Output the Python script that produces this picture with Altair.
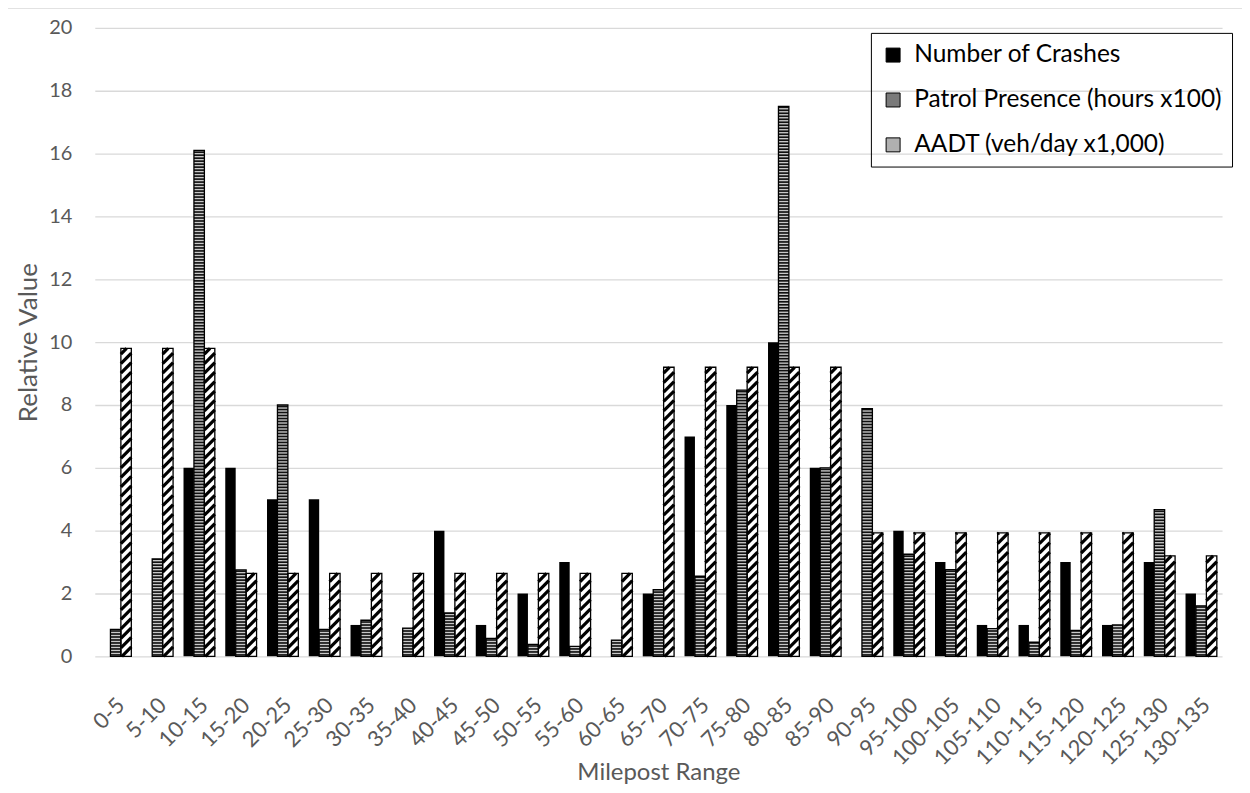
import json
import altair as alt
import pandas as pd

# ---------------- data ----------------
categories = ["0-5", "5-10", "10-15", "15-20", "20-25", "25-30", "30-35", "35-40",
              "40-45", "45-50", "50-55", "55-60", "60-65", "65-70", "70-75", "75-80",
              "80-85", "85-90", "90-95", "95-100", "100-105", "105-110", "110-115",
              "115-120", "120-125", "125-130", "130-135"]
crashes = [0, 0, 6, 6, 5, 5, 1, 0, 4, 1, 2, 3, 0, 2, 7, 8, 10, 6, 0, 4, 3, 1, 1, 3, 1, 3, 2]
patrol = [0.86, 3.1, 16.1, 2.75, 8.0, 0.86, 1.15, 0.9, 1.38, 0.57, 0.38, 0.32, 0.52, 2.12,
          2.55, 8.47, 17.5, 6.0, 7.88, 3.25, 2.76, 0.88, 0.45, 0.83, 1.0, 4.67, 1.61]
aadt = [9.8, 9.8, 9.8, 2.64, 2.64, 2.64, 2.64, 2.64, 2.64, 2.64, 2.64, 2.64, 2.64, 9.2,
        9.2, 9.2, 9.2, 9.2, 3.93, 3.93, 3.93, 3.93, 3.93, 3.93, 3.93, 3.2, 3.2]
series_names = ["Number of Crashes", "Patrol Presence (hours x100)", "AADT (veh/day x1,000)"]

# ---------------- style constants ----------------
W, H = 1130, 630
YMAX = 20
PX = H / YMAX            # pixels per unit on y
BAR_W = 0.25             # bar width in category units
OFFS = [-0.25, 0.0, 0.25]
FONT = "Lato"
GRAY = "#595959"

# ---------------- build tables from the arrays ----------------
rows = []
for i, cat in enumerate(categories):
    for s, (name, vals) in enumerate(zip(series_names, [crashes, patrol, aadt])):
        c = i + OFFS[s]
        rows.append(dict(cat=cat, series=name, value=vals[i],
                         xl=c - BAR_W / 2, xr=c + BAR_W / 2))
bars = pd.DataFrame(rows)

# horizontal stripes for patrol bars
per_h = 3 / PX
stripes_h = []
for r in bars[bars.series == series_names[1]].itertuples():
    k = 0
    while True:
        lo = k * per_h + per_h * 0.2
        if lo >= r.value:
            break
        hi = min(lo + per_h * 0.55, r.value)
        stripes_h.append(dict(xl=r.xl, xr=r.xr, lo=lo, hi=hi))
        k += 1
stripes_h = pd.DataFrame(stripes_h)

# diagonal stripes for AADT bars
per_d = 9.5 / PX
rise = 10.5 / PX
stripes_d = []
for r in bars[bars.series == series_names[2]].itertuples():
    y0 = -rise
    while y0 < r.value:
        t0 = max(0.0, (0 - y0) / rise)
        t1 = min(1.0, (r.value - y0) / rise)
        if t1 > t0:
            stripes_d.append(dict(x1=r.xl + t0 * (r.xr - r.xl), x2=r.xl + t1 * (r.xr - r.xl),
                                  y1=y0 + t0 * rise, y2=y0 + t1 * rise))
        y0 += per_d
stripes_d = pd.DataFrame(stripes_d)

xscale = alt.Scale(domain=[-0.5, len(categories) - 0.5], nice=False, zero=False)
yscale = alt.Scale(domain=[0, YMAX], nice=False)

label_expr = json.dumps(categories) + "[datum.value]"

x_axis = alt.Axis(values=list(range(len(categories))), labelExpr=label_expr,
                  labelAngle=-45, labelAlign="right", labelBaseline="middle",
                  labelFlush=False, labelOverlap=False, grid=False, ticks=False,
                  domain=False, labelPadding=45, labelOffset=5, labelColor=GRAY,
                  labelFontSize=22, title="Milepost Range", titleColor=GRAY,
                  titleFontSize=24, titleFontWeight="normal", titleY=116,
                  titleBaseline="middle")
y_axis = alt.Axis(values=list(range(0, YMAX + 1, 2)), grid=True, gridColor="#d9d9d9",
                  gridWidth=1.3, domain=False, ticks=False, labelColor=GRAY,
                  labelFontSize=20, labelPadding=23, title="Relative Value",
                  titleColor=GRAY, titleFontSize=26, titleFontWeight="normal",
                  titlePadding=7)

base = alt.Chart(bars)

legend_bars = base.mark_rect().encode(
    x=alt.X("xl:Q", scale=xscale, axis=x_axis),
    x2="xr:Q",
    y=alt.Y("value:Q", scale=yscale, axis=y_axis),
    y2=alt.datum(0),
    color=alt.Color("series:N",
                    scale=alt.Scale(domain=series_names, range=["#000000", "#7a7a7a", "#b0b0b0"]),
                    legend=alt.Legend(title=None, orient="none", legendX=778, legendY=5,
                                      symbolType="square", symbolSize=196,
                                      symbolStrokeColor="#000000", symbolStrokeWidth=1,
                                      labelFontSize=24.5, labelColor="#000000", labelFont=FONT,
                                      labelLimit=500, labelOffset=9, rowPadding=20, padding=10,
                                      strokeColor="#000000")),
)

patrol_base = base.transform_filter(alt.datum.series == series_names[1]).mark_rect(
    fill="#c8c8c8").encode(x="xl:Q", x2="xr:Q", y="value:Q", y2=alt.datum(0))
aadt_base = base.transform_filter(alt.datum.series == series_names[2]).mark_rect(
    fill="#ffffff").encode(x="xl:Q", x2="xr:Q", y="value:Q", y2=alt.datum(0))

h_layer = alt.Chart(stripes_h).mark_rect(fill="#111111").encode(
    x="xl:Q", x2="xr:Q", y="lo:Q", y2="hi:Q")
d_layer = alt.Chart(stripes_d).mark_rule(color="#000000", strokeWidth=3.2, strokeCap="butt").encode(
    x="x1:Q", x2="x2:Q", y="y1:Q", y2="y2:Q")

outline = base.transform_filter(alt.datum.series != series_names[0]).mark_rect(
    fill="#ffffff", fillOpacity=0, stroke="#000000", strokeWidth=1.3).encode(
    x="xl:Q", x2="xr:Q", y="value:Q", y2=alt.datum(0))

frame = alt.Chart(pd.DataFrame({"a": [0]})).mark_rect(
    fill="#ffffff", fillOpacity=0, stroke="#d9d9d9", strokeWidth=1.5).encode(
    x=alt.value(-88), x2=alt.value(1300), y=alt.value(-20), y2=alt.value(900))

chart = alt.layer(legend_bars, patrol_base, aadt_base, h_layer, d_layer, outline, frame).properties(
    width=W, height=H,
    autosize=alt.AutoSizeParams(type="none"),
    padding={"left": 87, "top": 19, "right": 20, "bottom": 128},
).configure(font=FONT).configure_view(stroke=None)

chart.save("out.html", embed_options={"renderer": "svg", "actions": False})
